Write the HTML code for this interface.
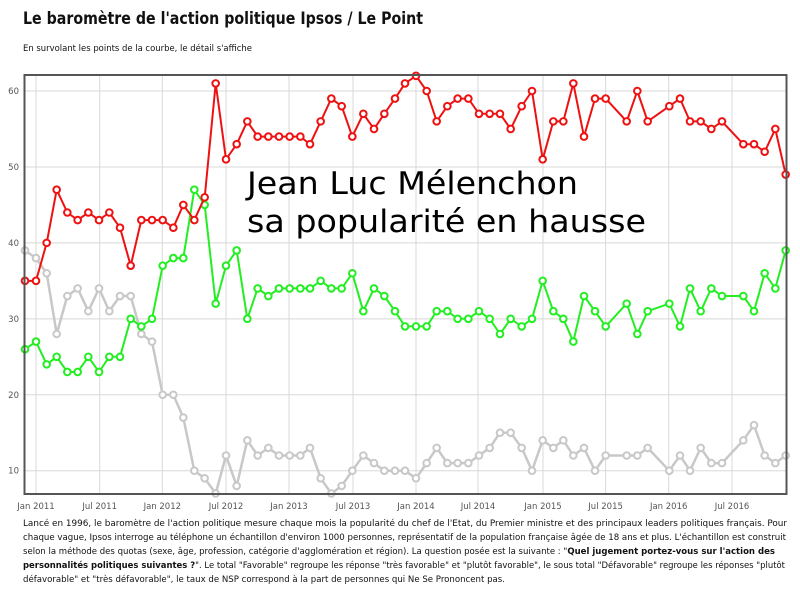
<!DOCTYPE html>
<html><head><meta charset="utf-8"><style>
html,body{margin:0;padding:0;background:#fff;}
svg{display:block;}
</style></head><body>
<svg id="s" width="800" height="592" xmlns="http://www.w3.org/2000/svg" font-family="'DejaVu Sans', 'Liberation Sans', sans-serif">
<rect width="800" height="592" fill="#fff"/>
<text x="23" y="24" font-size="17" font-weight="bold" fill="#111" textLength="400" lengthAdjust="spacingAndGlyphs">Le baromètre de l'action politique Ipsos / Le Point</text>
<text x="23" y="51" font-size="8.5" fill="#111" textLength="229" lengthAdjust="spacingAndGlyphs">En survolant les points de la courbe, le détail s'affiche</text>
<g id="grid" stroke="#d8d8d8" stroke-width="1"></g>
<g id="series"></g>
<rect x="24.5" y="75" width="762" height="419" fill="none" stroke="#555" stroke-width="2"/>
<g id="labels" font-size="8.5" fill="#555"></g>
<text x="247" y="194" font-size="31" fill="#000" textLength="331" lengthAdjust="spacingAndGlyphs">Jean Luc Mélenchon</text>
<text x="247" y="232" font-size="31" fill="#000" textLength="399" lengthAdjust="spacingAndGlyphs">sa popularité en hausse</text>
<g font-size="9" fill="#111">
<text x="23" y="526" textLength="764" lengthAdjust="spacingAndGlyphs">Lancé en 1996, le baromètre de l'action politique mesure chaque mois la popularité du chef de l'Etat, du Premier ministre et des principaux leaders politiques français. Pour</text>
<text x="23" y="540" textLength="763" lengthAdjust="spacingAndGlyphs">chaque vague, Ipsos interroge au téléphone un échantillon d'environ 1000 personnes, représentatif de la population française âgée de 18 ans et plus. L'échantillon est construit</text>
<text x="23" y="554" textLength="752" lengthAdjust="spacingAndGlyphs">selon la méthode des quotas (sexe, âge, profession, catégorie d'agglomération et région). La question posée est la suivante : "<tspan font-weight="bold">Quel jugement portez-vous sur l'action des</tspan></text>
<text x="23" y="568" textLength="762" lengthAdjust="spacingAndGlyphs"><tspan font-weight="bold">personnalités politiques suivantes ?</tspan>". Le total "Favorable" regroupe les réponse "très favorable" et "plutôt favorable", le sous total "Défavorable" regroupe les réponses "plutôt</text>
<text x="23" y="582" textLength="482" lengthAdjust="spacingAndGlyphs">défavorable" et "très défavorable", le taux de NSP correspond à la part de personnes qui Ne Se Prononcent pas.</text>
</g>
</svg>
<script>
var NS="http://www.w3.org/2000/svg";
function el(p,t,a,txt){var e=document.createElementNS(NS,t);for(var k in a)e.setAttribute(k,a[k]);if(txt!=null)e.textContent=txt;p.appendChild(e);return e;}
function Y(v){return 91+(60-v)*7.594;}
var grid=document.getElementById('grid'),lab=document.getElementById('labels');
for(var v=10;v<=60;v+=10){el(grid,'line',{x1:25,x2:786,y1:Y(v),y2:Y(v)});el(lab,'text',{x:19,y:Y(v)+3,'text-anchor':'end'},v);}
var xl=[[36,'Jan 2011'],[99.7,'Jul 2011'],[162.3,'Jan 2012'],[226,'Jul 2012'],[289,'Jan 2013'],[353,'Jul 2013'],[416,'Jan 2014'],[478,'Jul 2014'],[543,'Jan 2015'],[605.6,'Jul 2015'],[668.7,'Jan 2016'],[732,'Jul 2016']];
xl.forEach(function(a){el(grid,'line',{x1:a[0],x2:a[0],y1:75,y2:494});el(lab,'text',{x:a[0],y:509,'text-anchor':'middle'},a[1]);});
var z1=[75,108,140,170,202,233,265,297,328,360,392,424,456,488,520,550,583,614,647,678,710,742,773,805,837,869,901,930,962,994,1025,1057,1090,1122,1153,1185];
var z2=[15,48,80,110,142,173,205,237,269,300,332,365,396,428,460,490,520,552,585,617,680,712,743,808,840,870,902,934,966,1030,1062,1094,1126,1157];
var X=z1.map(function(x){return x/3;}).concat(z2.map(function(x){return 400+x/3;}));
var red=[35,35,40,47,44,43,44,43,44,42,37,43,43,43,42,45,43,46,61,51,53,56,54,54,54,54,54,53,56,59,58,54,57,55,57,59,
61,62,60,56,58,59,59,57,57,57,55,58,60,51,56,56,61,54,59,59,56,60,56,58,59,56,56,55,56,53,53,52,55,49];
var green=[26,27,24,25,23,23,25,23,25,25,30,29,30,37,38,38,47,45,32,37,39,30,34,33,34,34,34,34,35,34,34,36,31,34,33,31,
29,29,29,31,31,30,30,31,30,28,30,29,30,35,31,30,27,33,31,29,32,28,31,32,29,34,31,34,33,33,31,36,34,39];
var gray=[39,38,36,28,33,34,31,34,31,33,33,28,27,20,20,17,10,9,7,12,8,14,12,13,12,12,12,13,9,7,8,10,12,11,10,10,
10,9,11,13,11,11,11,12,13,15,15,13,10,14,13,14,12,13,10,12,12,12,13,10,12,10,13,11,11,14,16,12,11,12];
var sg=document.getElementById('series');
function draw(d,c,w){var p='';d.forEach(function(v,i){p+=(i?'L':'M')+X[i].toFixed(1)+' '+Y(v).toFixed(1);});
el(sg,'path',{d:p,fill:'none',stroke:c,'stroke-width':w,'stroke-linejoin':'round'});
d.forEach(function(v,i){el(sg,'circle',{cx:X[i],cy:Y(v),r:3.3,fill:'#fff',stroke:c,'stroke-width':2});});}
draw(gray,'#c8c8c8',2.5);draw(green,'#22ee22',2);draw(red,'#ee1111',2);
</script>
</body></html>
